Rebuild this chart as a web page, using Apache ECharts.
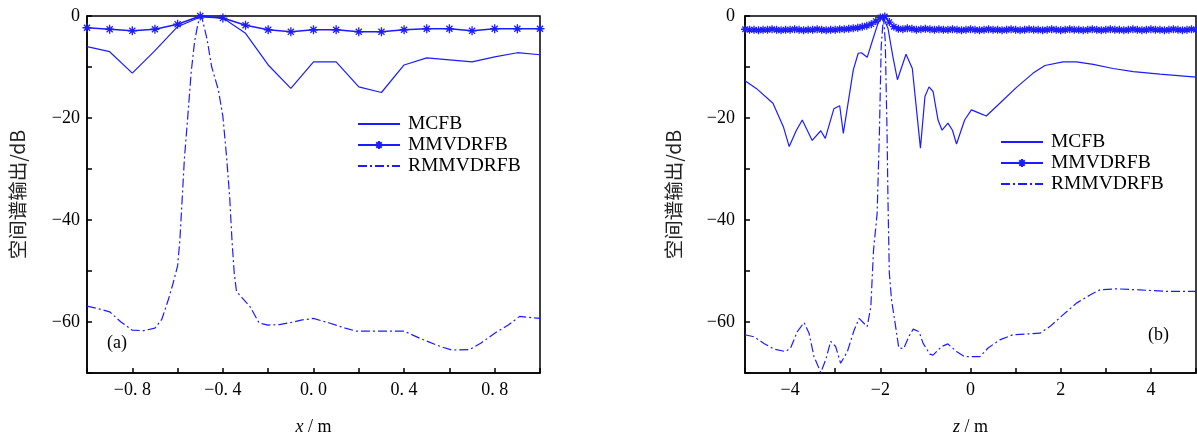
<!DOCTYPE html>
<html>
<head>
<meta charset="utf-8">
<script src="https://cdn.jsdelivr.net/npm/echarts@6/dist/echarts.min.js"></script>
<style>
html,body{margin:0;padding:0;background:#fff;}
#c{width:1197px;height:437px;}
</style>
</head>
<body>
<div id="c"></div>
<script>
// ---------- Panel (a): x / m ----------
const xA = [-1.0,-0.9,-0.8,-0.7,-0.6,-0.5,-0.4,-0.3,-0.2,-0.1,0.0,0.1,0.2,0.3,0.4,0.5,0.6,0.7,0.8,0.9,1.0];
const mcfbA = [-6.0,-7.0,-11.2,-6.8,-2.1,-0.2,-0.4,-3.4,-9.6,-14.2,-9.0,-9.0,-13.9,-15.0,-9.6,-8.2,-8.6,-9.0,-8.0,-7.2,-7.6];
const mmvA  = [-2.3,-2.6,-2.9,-2.6,-1.6,0.0,-0.4,-1.8,-2.7,-3.1,-2.7,-2.7,-3.1,-3.1,-2.7,-2.5,-2.5,-2.9,-2.5,-2.5,-2.5];
const rmmXA = [-1.0,-0.95,-0.9,-0.85,-0.8,-0.75,-0.7,-0.67,-0.64,-0.62,-0.6,-0.59,-0.58,-0.57,-0.555,-0.54,-0.525,-0.51,-0.5,-0.49,-0.47,-0.45,-0.42,-0.4,-0.385,-0.37,-0.36,-0.35,-0.34,-0.3,-0.28,-0.24,-0.2,-0.15,-0.1,-0.05,0.0,0.07,0.14,0.19,0.3,0.4,0.47,0.56,0.61,0.69,0.74,0.8,0.86,0.91,1.0];
const rmmYA = [-56.9,-57.4,-58.0,-60.0,-61.6,-61.7,-61.2,-59.5,-55.5,-52.4,-49.0,-44.0,-36.0,-28.0,-19.7,-11.0,-5.0,-1.5,0.0,-0.8,-4.5,-9.9,-14.5,-19.7,-27.0,-35.5,-43.9,-50.4,-54.0,-56.0,-57.0,-60.2,-60.6,-60.5,-60.1,-59.6,-59.3,-60.2,-61.2,-61.8,-61.8,-61.8,-63.2,-64.8,-65.5,-65.4,-64.1,-62.2,-60.6,-58.9,-59.3];

// ---------- Panel (b): z / m ----------
const mcfbZB = [-5.0,-4.75,-4.38,-4.15,-4.02,-3.86,-3.73,-3.51,-3.32,-3.22,-3.03,-2.90,-2.82,-2.60,-2.49,-2.42,-2.29,-2.17,-2.05,-1.95,-1.83,-1.72,-1.62,-1.43,-1.29,-1.11,-1.01,-0.92,-0.83,-0.72,-0.63,-0.50,-0.40,-0.31,-0.13,0.02,0.21,0.35,0.65,1.02,1.39,1.65,2.05,2.35,2.72,3.16,3.61,4.20,5.0];
const mcfbYB = [-12.7,-14.2,-17.1,-21.7,-25.6,-22.4,-20.4,-24.4,-22.5,-24.0,-18.2,-17.6,-23.0,-10.6,-7.3,-7.2,-8.1,-4.7,-1.4,0.0,-2.4,-8.0,-12.5,-7.5,-10.3,-25.9,-15.8,-13.9,-14.8,-20.4,-22.4,-21.0,-22.4,-25.1,-20.4,-18.4,-19.1,-19.6,-17.1,-14.0,-11.2,-9.7,-9.0,-9.0,-9.5,-10.3,-10.9,-11.4,-12.0];
const mmvZB = [
 -5.0,-4.9,-4.8,-4.7,-4.6,-4.5,-4.4,-4.3,-4.2,-4.1,
 -4.0,-3.9,-3.8,-3.7,-3.6,-3.5,-3.4,-3.3,-3.2,-3.1,
 -3.0,-2.9,-2.8,-2.7,-2.6,-2.5,-2.4,-2.3,-2.2,-2.1,
 -2.0,-1.9,-1.8,-1.7,-1.6,-1.5,-1.4,-1.3,-1.2,-1.1,
 -1.0,-0.9,-0.8,-0.7,-0.6,-0.5,-0.4,-0.3,-0.2,-0.1,
 0.0,0.1,0.2,0.3,0.4,0.5,0.6,0.7,0.8,0.9,
 1.0,1.1,1.2,1.3,1.4,1.5,1.6,1.7,1.8,1.9,
 2.0,2.1,2.2,2.3,2.4,2.5,2.6,2.7,2.8,2.9,
 3.0,3.1,3.2,3.3,3.4,3.5,3.6,3.7,3.8,3.9,
 4.0,4.1,4.2,4.3,4.4,4.5,4.6,4.7,4.8,4.9,
 5.0];
const mmvYB = [
 -2.6,-2.7,-2.7,-2.8,-2.7,-2.7,-2.6,-2.7,-2.8,-2.7,
 -2.7,-2.6,-2.7,-2.8,-2.7,-2.7,-2.6,-2.7,-2.8,-2.7,
 -2.7,-2.6,-2.6,-2.5,-2.4,-2.3,-2.1,-1.9,-1.6,-1.0,
 -0.3,-0.1,-1.2,-2.1,-2.5,-2.6,-2.4,-2.5,-2.7,-2.6,
 -2.5,-2.6,-2.7,-2.6,-2.7,-2.7,-2.6,-2.7,-2.8,-2.7,
 -2.6,-2.7,-2.8,-2.7,-2.6,-2.7,-2.7,-2.8,-2.7,-2.6,
 -2.7,-2.8,-2.7,-2.6,-2.7,-2.7,-2.8,-2.7,-2.6,-2.7,
 -2.8,-2.7,-2.6,-2.7,-2.7,-2.8,-2.7,-2.6,-2.7,-2.8,
 -2.7,-2.6,-2.7,-2.7,-2.8,-2.7,-2.6,-2.7,-2.8,-2.7,
 -2.6,-2.7,-2.7,-2.8,-2.7,-2.6,-2.7,-2.8,-2.7,-2.6,
 -2.7];
const rmmZB = [-5.0,-4.8,-4.58,-4.36,-4.1,-3.99,-3.84,-3.69,-3.58,-3.47,-3.32,-3.21,-3.1,-2.99,-2.88,-2.73,-2.58,-2.47,-2.29,-2.21,-2.15,-2.07,-2.02,-1.98,-1.93,-1.89,-1.85,-1.83,-1.8,-1.75,-1.66,-1.59,-1.48,-1.37,-1.27,-1.14,-1.05,-0.9,-0.83,-0.64,-0.5,-0.31,-0.13,0.21,0.39,0.65,0.94,1.54,1.76,2.05,2.35,2.65,2.87,3.24,3.75,4.35,5.0];
const rmmYB = [-62.5,-62.9,-64.2,-65.3,-65.8,-65.1,-61.9,-60.1,-62.2,-66.8,-69.9,-67.4,-63.8,-64.8,-68.1,-65.8,-61.6,-59.3,-60.9,-57.0,-45.9,-38.7,-23.0,-6.0,0.0,-5.0,-23.0,-36.0,-50.4,-55.7,-60.9,-65.1,-65.2,-62.9,-61.4,-61.9,-64.2,-66.3,-66.5,-64.8,-64.3,-65.8,-66.8,-66.8,-65.1,-63.5,-62.5,-62.2,-60.9,-58.6,-56.3,-54.7,-53.7,-53.5,-53.7,-54.0,-54.0];

const seriesNames = ['MCFB','MMVDRFB','RMMVDRFB'];
const panelLabels = ['(a)','(b)'];
const yName = '空间谱输出/dB';

const BLUE = '#1c1cff';
const SERIF = "'Liberation Serif','Times New Roman',serif";
const CJK = "'Noto Sans CJK SC','Noto Sans',sans-serif";
const STAR = 'path://M0,5 L10,5 M5,0 L5,10 M1.6,1.6 L8.4,8.4 M1.6,8.4 L8.4,1.6';
const DASHDOT = [9,3,2,3];

function zip(a,b){ return a.map((v,i)=>[v,b[i]]); }

function fmtY(v){ if (Math.round(v) % 20 !== 0) return ''; return v === 0 ? '0' : '\u2212' + Math.abs(v); }
function fmtXA(v){
  const k = Math.round(v/0.4);
  if (Math.abs(v - k*0.4) > 1e-6 || Math.abs(v) > 0.99) return '';
  const s = Math.abs(v).toFixed(1).replace('.', '. ');
  return (v < -1e-9 ? '\u2212' : '') + s;
}
function fmtXB(v){
  const r = Math.round(v);
  if (r % 2 !== 0 || Math.abs(r) >= 5) return '';
  return r < 0 ? '\u2212' + (-r) : String(r);
}

const axisCommon = {
  axisLine:{show:true,onZero:false,lineStyle:{color:'#000',width:1.5}},
  axisTick:{show:true,inside:true,length:5,lineStyle:{color:'#000',width:1.5}},
  splitLine:{show:false},
};

function xAxisDef(idx,min,max,interval,fmt){
  return Object.assign({}, axisCommon, {
    type:'value', gridIndex:idx, min:min, max:max, interval:interval,
    axisLabel:{formatter:fmt, color:'#000', fontFamily:SERIF, fontSize:18, margin:8, showMinLabel:true, showMaxLabel:true},
    name: idx===0 ? '{i|x} / m' : '{i|z} / m',
    nameLocation:'middle', nameGap:45,
    nameTextStyle:{color:'#000', fontFamily:SERIF, fontSize:18,
      rich:{i:{fontStyle:'italic', fontFamily:SERIF, fontSize:18, color:'#000'}}}
  });
}
function yAxisDef(idx,gap,margin){
  return Object.assign({}, axisCommon, {
    type:'value', gridIndex:idx, min:-70, max:0, interval:10,
    axisLabel:{formatter:fmtY, color:'#000', fontFamily:SERIF, fontSize:18, margin:margin, showMinLabel:true, showMaxLabel:true},
    name: yName, nameLocation:'middle', nameGap:gap, nameRotate:90,
    nameTextStyle:{color:'#222', fontFamily:CJK, fontSize:19.5}
  });
}

function mkSeries(idx, mcfb, mmv, rmm, symSize){
  return [
    {name:seriesNames[0], type:'line', xAxisIndex:idx, yAxisIndex:idx, data:mcfb,
     symbol:'none', lineStyle:{color:BLUE,width:1.2}, itemStyle:{color:BLUE}, animation:false, z:3},
    {name:seriesNames[1], type:'line', xAxisIndex:idx, yAxisIndex:idx, data:mmv,
     symbol:STAR, symbolSize:symSize, showSymbol:true, showAllSymbol:true,
     lineStyle:{color:BLUE,width:1.6},
     itemStyle:{color:BLUE,borderColor:BLUE,borderWidth:1.3}, animation:false, z:4},
    {name:seriesNames[2], type:'line', xAxisIndex:idx, yAxisIndex:idx, data:rmm,
     symbol:'none', lineStyle:{color:BLUE,width:1.2,type:DASHDOT}, itemStyle:{color:BLUE}, animation:false, z:2}
  ];
}

const HIDE = {opacity:0, color:'rgba(0,0,0,0)', borderColor:'rgba(0,0,0,0)', borderWidth:0};
const legendData = [
  {name:seriesNames[0], itemStyle:HIDE},
  {name:seriesNames[1]},
  {name:seriesNames[2], itemStyle:HIDE}
];
function legendDef(left, top){
  return {data:legendData, orient:'vertical', left:left, top:top, padding:0,
    itemWidth:42, itemHeight:10, itemGap:1,
    textStyle:{fontFamily:SERIF, fontSize:19.5, color:'#000', padding:[0,0,0,3]},
    selectedMode:false};
}

const chart = echarts.init(document.getElementById('c'), null, {renderer:'canvas'});
chart.setOption({
  backgroundColor:'#fff',
  animation:false,
  grid:[
    {left:87, top:16, width:453, height:357, show:true, borderColor:'#000', borderWidth:1.5, backgroundColor:'transparent', outerBoundsMode:'none', containLabel:false},
    {left:745, top:16, width:451, height:357, show:true, borderColor:'#000', borderWidth:1.5, backgroundColor:'transparent', outerBoundsMode:'none', containLabel:false}
  ],
  xAxis:[ xAxisDef(0,-1,1,0.2,fmtXA), xAxisDef(1,-5,5,1,fmtXB) ],
  yAxis:[ yAxisDef(0,60,7), yAxisDef(1,62,10) ],
  legend:[ legendDef(357, 114), legendDef(1000, 132) ],
  graphic:[
    {type:'text', left:107, top:334, style:{text:panelLabels[0], font:"18px 'Liberation Serif', serif", fill:'#000'}},
    {type:'text', left:1148, top:326, style:{text:panelLabels[1], font:"18px 'Liberation Serif', serif", fill:'#000'}}
  ],
  series: [].concat(
    mkSeries(0, zip(xA,mcfbA), zip(xA,mmvA), zip(rmmXA,rmmYA), 9),
    mkSeries(1, zip(mcfbZB,mcfbYB), zip(mmvZB,mmvYB), zip(rmmZB,rmmYB), 8)
  )
});
</script>
</body>
</html>
